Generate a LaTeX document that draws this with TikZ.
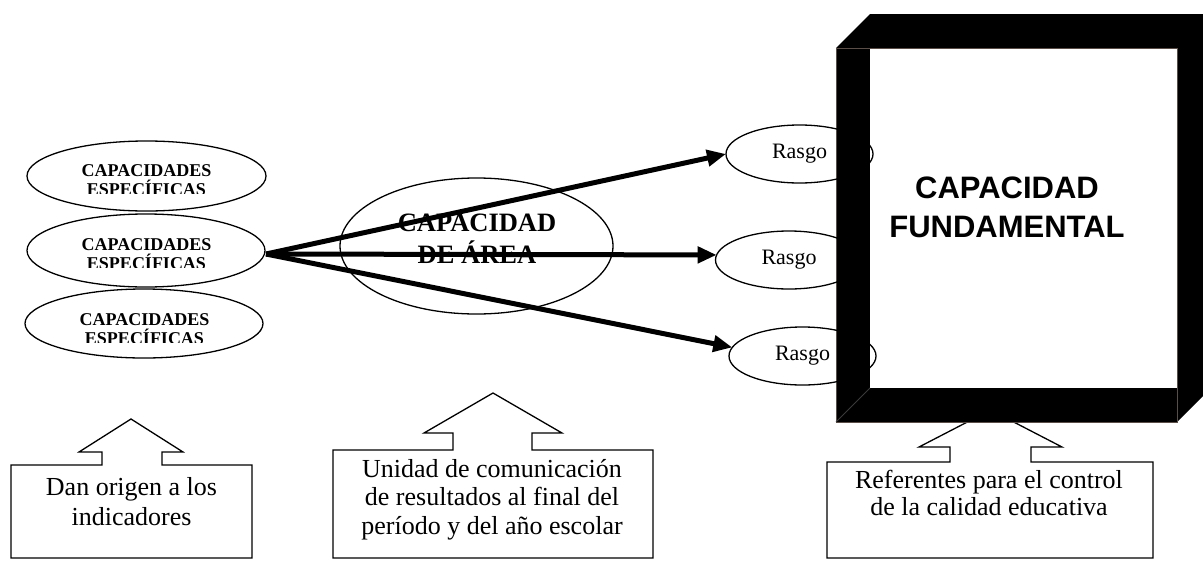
\documentclass[tikz,border=0pt]{standalone}
\usepackage{fontspec}
\setmainfont{Liberation Serif}
\newfontfamily\sansf{Liberation Sans}
\usetikzlibrary{shapes.geometric,arrows.meta}
\definecolor{boxedge}{HTML}{5B4D48}
\definecolor{diaggray}{HTML}{3A3A3A}
\begin{document}
\begin{tikzpicture}[x=1pt,y=-1pt,
  ell/.style={draw, ellipse, line width=1.3pt, inner sep=0pt, outer sep=0pt},
  capesp/.style={font=\bfseries\fontsize{18}{18.5}\selectfont, align=center, inner sep=0pt, anchor=base},
  rasgo/.style={ell, minimum width=147pt, minimum height=58pt, font=\fontsize{22}{24}\selectfont},
  callout/.style={draw, line width=1.3pt, line join=miter},
  ctext/.style={inner sep=0pt, align=center, anchor=base},
  bigarrow/.style={line width=5pt, -{Triangle[length=19pt,width=16pt]}},
]
\fill[white] (0,0) rectangle (1203,560);
\useasboundingbox (0,0) rectangle (1203,560);

% callouts
\draw[callout] (11,465) -- (102,465) -- (102,452) -- (79,452) -- (131,419) -- (183,452) -- (162,452) -- (162,465) -- (252,465) -- (252,558) -- (11,558) -- cycle;
\node[ctext, font=\fontsize{26}{30}\selectfont] (t1) at (131.5,525) {Dan origen a los\\indicadores};

\draw[callout] (333,450) -- (453,450) -- (453,433) -- (424,433) -- (493,393) -- (562,433) -- (532,433) -- (532,450) -- (653,450) -- (653,558) -- (333,558) -- cycle;
\node[ctext, font=\fontsize{26}{28.5}\selectfont] (t2) at (492,534.3) {Unidad de comunicación\\de resultados al final del\\período y del año escolar};

\draw[callout] (827,462) -- (950,462) -- (950,447) -- (919,447) -- (990.5,410) -- (1062,447) -- (1031,447) -- (1031,462) -- (1153,462) -- (1153,558) -- (827,558) -- cycle;
\node[ctext, font=\fontsize{26}{27}\selectfont] (t3) at (989,515.3) {Referentes para el control\\de la calidad educativa};

% left ellipses
\node[ell, minimum width=239pt, minimum height=70pt] (c1) at (146.5,176) {};
\node[ell, minimum width=238pt, minimum height=73pt] (c2) at (146,250.5) {};
\node[ell, minimum width=238pt, minimum height=69pt] (c3) at (144,323.5) {};
\begin{scope}
\clip (40,150) rectangle (250,193.5);
\node[capesp] (c1t) at (146.5,195.2) {CAPACIDADES\\ESPECÍFICAS};
\end{scope}
\begin{scope}
\clip (40,225) rectangle (250,267.5);
\node[capesp] (c2t) at (146.5,269) {CAPACIDADES\\ESPECÍFICAS};
\end{scope}
\begin{scope}
\clip (40,300) rectangle (250,342.5);
\node[capesp] (c3t) at (144.5,344) {CAPACIDADES\\ESPECÍFICAS};
\end{scope}

% area ellipse
\node[ell, minimum width=273pt, minimum height=136pt] (area) at (476.5,246) {};
\node[inner sep=0pt, align=center, anchor=base, font=\bfseries\fontsize{26.5}{31.5}\selectfont] (areat) at (477,263.2) {CAPACIDAD\\DE ÁREA};

% 3D box
\fill[black] (836,48) -- (870,14) -- (1203,14) -- (1203,396) -- (1177,422) -- (836,422) -- cycle;
\node[rectangle, fill=white, inner sep=0pt, outer sep=0pt, minimum width=307pt, minimum height=340pt] (fund) at (1023.5,218) {};
\draw[boxedge, line width=1pt] (836,48) rectangle (1177,422);
\draw[diaggray, line width=0.8pt] (836,422) -- (870,388);
\node[inner sep=0pt, align=center, anchor=base, font=\sansf\bfseries\fontsize{31}{39}\selectfont] (fundt) at (1007,237.3) {CAPACIDAD\\FUNDAMENTAL};

% rasgo ellipses
\node[rasgo] (r1) at (799.5,154) {Rasgo};
\node[rasgo] (r2) at (789,260) {Rasgo};
\node[rasgo] (r3) at (802.5,356) {Rasgo};

% arrows
\coordinate (s) at (266,254);
\draw[bigarrow] (s) -- (r1.west);
\draw[bigarrow] (s) -- (r2.176);
\draw[bigarrow] (s) -- (r3.173);
\end{tikzpicture}
\end{document}
